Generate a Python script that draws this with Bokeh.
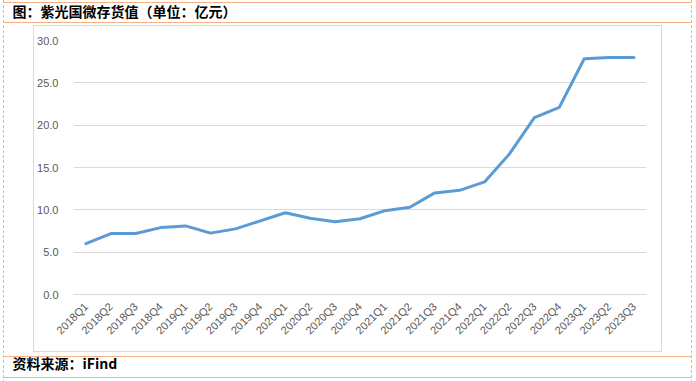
from bokeh.plotting import figure
from bokeh.models import (Title, FactorRange, Range1d,
                          FixedTicker, NumeralTickFormatter, ColumnDataSource)
from bokeh.embed import file_html
from bokeh.resources import INLINE
import math

# ---- data ----
quarters = ["2018Q1", "2018Q2", "2018Q3", "2018Q4",
            "2019Q1", "2019Q2", "2019Q3", "2019Q4",
            "2020Q1", "2020Q2", "2020Q3", "2020Q4",
            "2021Q1", "2021Q2", "2021Q3", "2021Q4",
            "2022Q1", "2022Q2", "2022Q3", "2022Q4",
            "2023Q1", "2023Q2", "2023Q3"]
inventory = [6.0, 7.2, 7.2, 7.9,
             8.1, 7.25, 7.75, 8.7,
             9.65, 9.0, 8.6, 8.95,
             9.9, 10.3, 12.0, 12.3,
             13.3, 16.6, 20.9, 22.1,
             27.85, 28.0, 28.0]
y_ticks = [0, 5, 10, 15, 20, 25, 30]
title_text = "图：紫光国微存货值（单位：亿元）"
source_text = "资料来源：iFind"

W, H = 696, 381
src = ColumnDataSource(dict(q=quarters, v=inventory))

p = figure(width=W, height=H, output_backend="svg", toolbar_location=None,
           x_range=FactorRange(factors=quarters, range_padding=0),
           y_range=Range1d(0, 30),
           min_border_left=73, min_border_right=50,
           min_border_top=40, min_border_bottom=87)
p.outline_line_color = None
p.background_fill_color = "white"
p.border_fill_color = None

p.line("q", "v", source=src, line_color="#5b9bd5", line_width=3,
       line_join="round", line_cap="round")

p.yaxis.ticker = FixedTicker(ticks=y_ticks)
p.yaxis.formatter = NumeralTickFormatter(format="0.0")
p.yaxis.axis_line_color = None
p.yaxis.major_tick_line_color = None
p.yaxis.minor_tick_line_color = None
p.yaxis.major_label_text_font = "Liberation Sans"
p.yaxis.major_label_text_font_size = "11px"
p.yaxis.major_label_text_color = "#595959"
p.yaxis.major_label_standoff = 9

p.xaxis.axis_line_color = "#d9d9d9"
p.xaxis.major_tick_line_color = None
p.xaxis.minor_tick_line_color = None
p.xaxis.major_label_orientation = math.pi / 4
p.xaxis.major_label_text_font = "Liberation Sans"
p.xaxis.major_label_text_font_size = "11px"
p.xaxis.major_label_text_color = "#595959"
p.xaxis.major_label_standoff = 4

p.xgrid.grid_line_color = None
p.ygrid.grid_line_color = "#d9d9d9"
p.ygrid.grid_line_width = 1

# main title (outermost) + a tiny spacer title next to the frame
p.title = Title(text=title_text, align="left", offset=-61, standoff=0,
                vertical_align="top",
                text_font="Noto Sans CJK SC", text_font_style="bold",
                text_font_size="14px", text_color="black")
p.add_layout(Title(text=" ", standoff=14.5, text_font_size="1px",
                   text_font="Noto Sans CJK SC"), "above")
p.add_layout(Title(text=source_text, align="left", offset=-61, standoff=15,
                   text_font="Noto Sans CJK SC", text_font_style="bold",
                   text_font_size="14px", text_color="black"), "below")

# frame decorations painted by the page behind the transparent border area
OR = "#f4b183"
GR = "#d9d9d9"
DS = "#bfbfbf"
layers = [
    (f"linear-gradient({OR},{OR})", "3px 2px", "688px 1px"),
    (f"linear-gradient({OR},{OR})", "3px 22px", "688px 1px"),
    (f"linear-gradient({OR},{OR})", "3px 356px", "688px 1px"),
    (f"linear-gradient({OR},{OR})", "3px 377px", "688px 1px"),
    (f"repeating-linear-gradient(to bottom,{DS} 0px,{DS} 3px,transparent 3px,transparent 5px)", "3px 0px", "1px 381px"),
    (f"repeating-linear-gradient(to bottom,{DS} 0px,{DS} 3px,transparent 3px,transparent 5px)", "691px 0px", "1px 381px"),
    (f"linear-gradient({GR},{GR})", "33px 25px", "629px 1px"),
    (f"linear-gradient({GR},{GR})", "33px 351px", "629px 1px"),
    (f"linear-gradient({GR},{GR})", "33px 25px", "1px 327px"),
    (f"linear-gradient({GR},{GR})", "661px 25px", "1px 327px"),
]
css = (":host { background-color: white;"
       " background-image: " + ", ".join(l[0] for l in layers) + ";"
       " background-position: " + ", ".join(l[1] for l in layers) + ";"
       " background-size: " + ", ".join(l[2] for l in layers) + ";"
       " background-repeat: no-repeat; }")
p.stylesheets = [css]

open("out.html", "w").write(file_html(p, INLINE))
